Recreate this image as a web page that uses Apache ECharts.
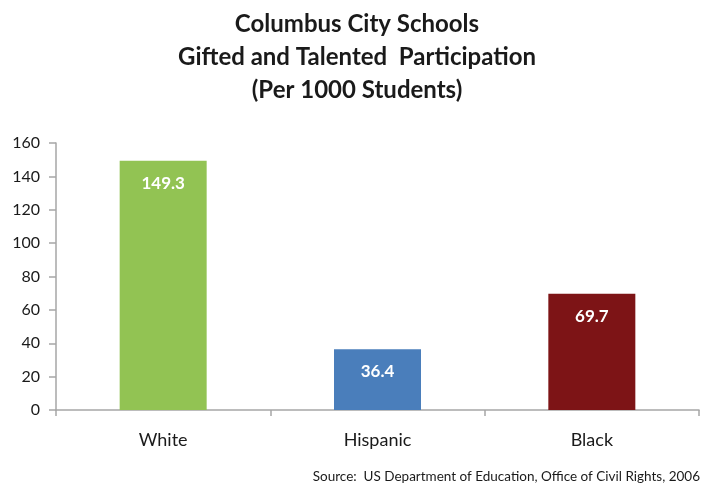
<!DOCTYPE html>
<html><head><meta charset="utf-8">
<script src="https://cdn.jsdelivr.net/npm/echarts@6/dist/echarts.min.js"></script>
<style>html,body{margin:0;padding:0;background:#fff}#c{width:706px;height:488px}</style>
</head><body><div id="c"></div>
<script>
const categories = ['White', 'Hispanic', 'Black'];
const values = [149.3, 36.4, 69.7];
const barColors = ['#92c353', '#4a7ebb', '#7d1416'];
const yTicks = [0, 20, 40, 60, 80, 100, 120, 140, 160];
const titleLines = ['Columbus City Schools', 'Gifted and Talented  Participation', '(Per 1000 Students)'];
const sourceText = 'Source:  US Department of Education, Office of Civil Rights, 2006';

const chart = echarts.init(document.getElementById('c'));
const font = 'Lato, "Open Sans", sans-serif';
chart.setOption({
  animation: false,
  title: {
    text: titleLines.join('\n'),
    left: 352, textAlign: 'center', top: 3,
    textStyle: { fontFamily: font, fontSize: 24, fontWeight: 'bold', color: '#1a1a1a', lineHeight: 33 }
  },
  graphic: [{
    type: 'text', right: 6, top: 470,
    style: { text: sourceText, fontFamily: font, fontSize: 13.5, fill: '#1a1a1a' }
  }],
  grid: { left: 56, right: 7, top: 143, bottom: 78, containLabel: false },
  xAxis: {
    type: 'category', data: categories,
    axisLine: { lineStyle: { color: '#a6a6a6', width: 1.5 } },
    axisTick: { show: true, lineStyle: { color: '#a6a6a6', width: 1.5 }, length: 6 },
    axisLabel: { fontFamily: font, fontSize: 18, color: '#1a1a1a', margin: 21 }
  },
  yAxis: {
    type: 'value', min: 0, max: 160, interval: 20,
    axisLine: { show: true, lineStyle: { color: '#a6a6a6', width: 1.5 } },
    axisTick: { show: true, lineStyle: { color: '#a6a6a6', width: 1.5 }, length: 7 },
    splitLine: { show: false },
    axisLabel: { fontFamily: font, fontSize: 16, color: '#1a1a1a', margin: 16,
      formatter: v => yTicks.includes(v) ? String(v) : '' }
  },
  series: [{
    type: 'bar', barWidth: 87,
    data: values.map((v, i) => ({ value: v, itemStyle: { color: barColors[i] } })),
    label: { show: true, position: 'insideTop', distance: 14, color: '#fff',
      fontFamily: font, fontSize: 17, fontWeight: 'bold', formatter: p => p.value.toFixed(1) }
  }]
});
</script></body></html>
